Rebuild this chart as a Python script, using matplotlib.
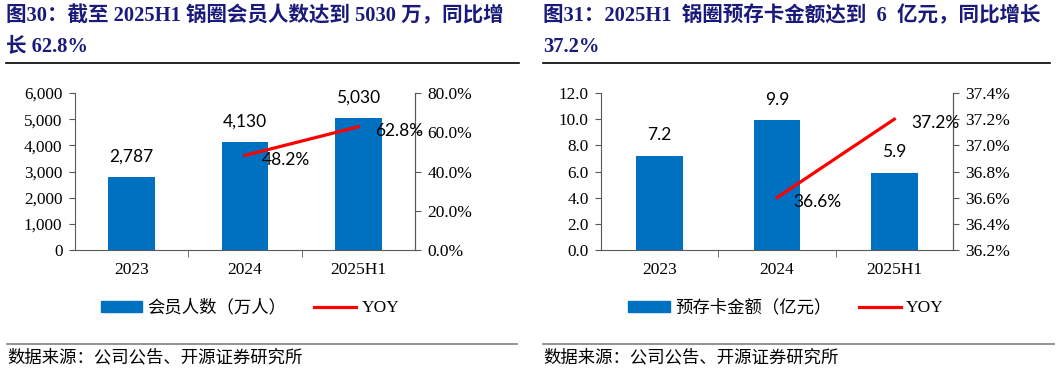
import matplotlib
matplotlib.use("Agg")
import matplotlib.pyplot as plt
from matplotlib.lines import Line2D
from matplotlib.ticker import FuncFormatter, MultipleLocator

plt.rcParams['font.family'] = ['Liberation Serif', 'Noto Sans CJK SC']

# data
categories = ["2023", "2024", "2025H1"]
members = [2787, 4130, 5030]              # 会员人数（万人）
members_yoy = [None, 48.2, 62.8]          # %
prepaid = [7.2, 9.9, 5.9]                 # 预存卡金额（亿元）
prepaid_yoy = [None, 36.6, 37.2]          # %

titles = ["图30：截至 2025H1 锅圈会员人数达到 5030 万，同比增\n长 62.8%",
          "图31：2025H1  锅圈预存卡金额达到  6  亿元，同比增长\n37.2%"]
bar_labels = ["会员人数（万人）", "预存卡金额（亿元）"]
source = "数据来源：公司公告、开源证券研究所"

BLUE = "#0070C0"
RED = "#FF0000"
NAVY = "#1a1a7a"
GRAY = "#595959"
W, H = 1057, 375

fig = plt.figure(figsize=(W / 100, H / 100), dpi=100)


def draw_panel(rect, values, yoy, ylim, ystep, yfmt, y2lim, y2step, y2fmt,
               bar_fmt, bar_width):
    ax = fig.add_axes(rect)
    x = list(range(len(categories)))
    ax.bar(x, values, width=bar_width, color=BLUE, zorder=2)
    ax.set_xlim(-0.5, len(categories) - 0.5)
    ax.set_ylim(*ylim)
    ax.yaxis.set_major_locator(MultipleLocator(ystep))
    ax.yaxis.set_major_formatter(FuncFormatter(yfmt))
    ax.set_xticks(x)
    ax.set_xticklabels(categories)
    ax.set_xticks([i + 0.5 for i in x[:-1]], minor=True)
    ax.tick_params(axis='x', which='major', length=0, pad=9, labelsize=12.5)
    ax.tick_params(axis='x', which='minor', length=5, direction='out', color=GRAY)
    ax.tick_params(axis='y', length=4, direction='out', color=GRAY, labelsize=12.3, pad=5)
    ax.spines['top'].set_visible(False)
    for s in ['left', 'right', 'bottom']:
        ax.spines[s].set_color(GRAY)

    for i, v in enumerate(values):
        ax.annotate(bar_fmt(v), (i, v), xytext=(0, 9), textcoords='offset points',
                    ha='center', va='bottom', fontsize=12.5, family='Lato')

    ax2 = ax.twinx()
    ax2.set_ylim(*y2lim)
    ax2.yaxis.set_major_locator(MultipleLocator(y2step))
    ax2.yaxis.set_major_formatter(FuncFormatter(y2fmt))
    ax2.tick_params(axis='y', length=4, direction='out', color=GRAY, labelsize=12.5, pad=5)
    for s in ['top', 'left', 'bottom']:
        ax2.spines[s].set_visible(False)
    ax2.spines['right'].set_color(GRAY)

    px = [i for i, v in enumerate(yoy) if v is not None]
    py = [v for v in yoy if v is not None]
    ax2.plot(px, py, color=RED, lw=2.3, zorder=3)
    for i, v in zip(px, py):
        ax2.annotate("%.1f%%" % v, (i, v), xytext=(12, -3), textcoords='offset points',
                     ha='left', va='center', fontsize=12.5, family='Lato')
    return ax


ax_l = draw_panel([75 / W, 125 / H, 340 / W, 157 / H], members, members_yoy,
                  (0, 6000), 1000, lambda v, p: "{:,.0f}".format(v),
                  (0, 80), 20, lambda v, p: "%.1f%%" % v,
                  lambda v: "{:,.0f}".format(v), 0.41)
ax_r = draw_panel([601 / W, 125 / H, 352 / W, 157 / H], prepaid, prepaid_yoy,
                  (0, 12), 2, lambda v, p: "%.1f" % v,
                  (36.2, 37.4), 0.2, lambda v, p: "%.1f%%" % v,
                  lambda v: "%.1f" % v, 0.40)

# titles and rules
for x0, x1, t in [(6, 519, titles[0]), (543, 1050, titles[1])]:
    fig.text(x0 / W, 1 - 6 / H, t, ha='left', va='top', fontsize=14.8,
             fontweight='bold', color=NAVY, linespacing=1.7)
    fig.add_artist(Line2D([x0 / W, x1 / W], [1 - 63 / H] * 2, color='black', lw=1.2))

# legends
for cx, lab in [(250, bar_labels[0]), (786, bar_labels[1])]:
    handles = [plt.Rectangle((0, 0), 1, 1, color=BLUE), Line2D([], [], color=RED, lw=2.3)]
    fig.legend(handles, [lab, "YOY"], loc='center', bbox_to_anchor=(cx / W, 1 - 308 / H),
               ncol=2, frameon=False, fontsize=12.5, handlelength=2.4, handleheight=0.6,
               columnspacing=1.6, handletextpad=0.3)

# bottom rules and source
for x0, x1 in [(7, 517), (543, 1054)]:
    fig.add_artist(Line2D([x0 / W, x1 / W], [1 - 344 / H] * 2, color='#7f7f7f', lw=1.2))
    fig.text(x0 / W, 1 - 358 / H, source, ha='left', va='center', fontsize=12.5)

fig.savefig("out.png", dpi=100)
